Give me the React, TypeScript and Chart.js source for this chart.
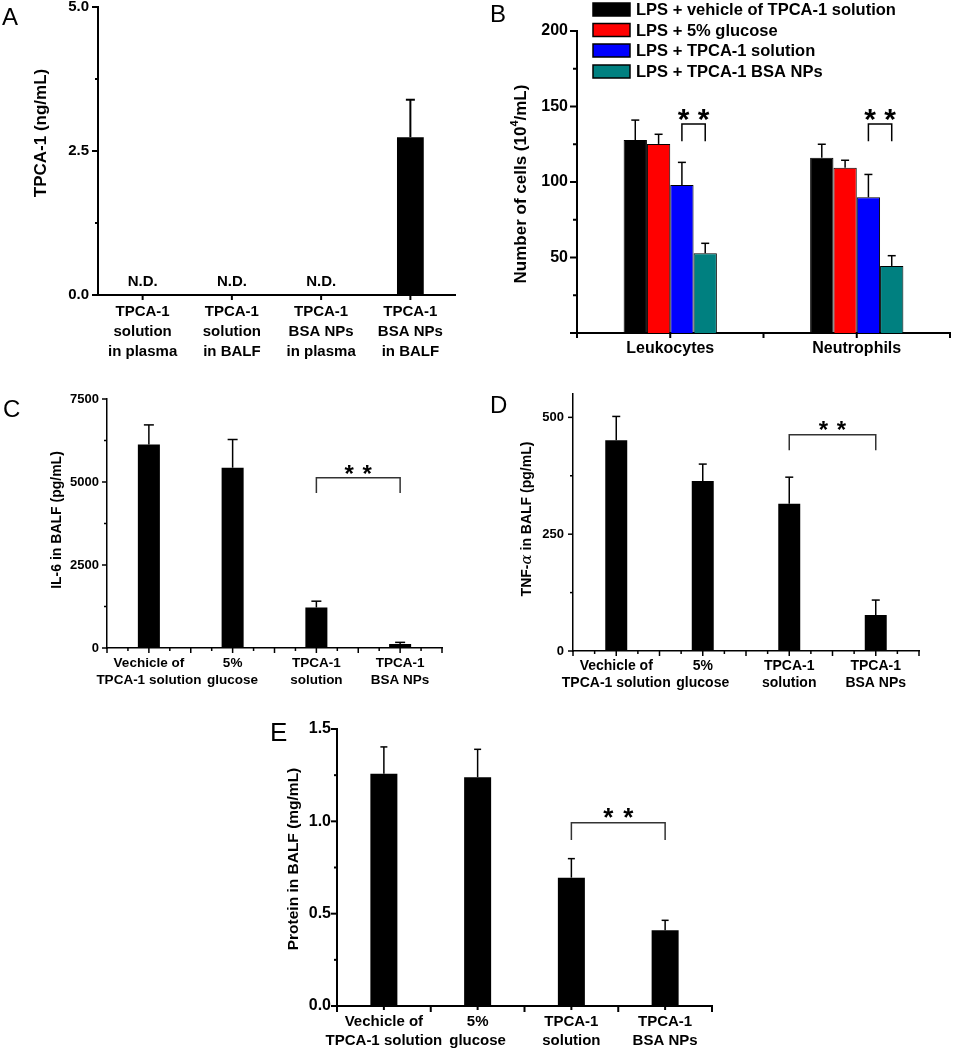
import React, { useEffect, useRef } from "react";
import { Chart, registerables } from "chart.js";

Chart.register(...registerables);

const FONT = "Arial, 'Liberation Sans', Helvetica, sans-serif";
Chart.defaults.font.family = FONT;
Chart.defaults.color = "#000";

// ---------------- Panel A data ----------------
const aCategories = [
  ["TPCA-1", "solution", "in plasma"],
  ["TPCA-1", "solution", "in BALF"],
  ["TPCA-1", "BSA NPs", "in plasma"],
  ["TPCA-1", "BSA NPs", "in BALF"],
];
const aConcentration: (number | null)[] = [null, null, null, 2.74];
const aConcentrationSD: (number | null)[] = [null, null, null, 0.65];
const aNotDetected = ["N.D.", "N.D.", "N.D.", ""];

// ---------------- Panel B data ----------------
const bCategories = ["Leukocytes", "Neutrophils"];
const bSeriesNames = [
  "LPS + vehicle of TPCA-1 solution",
  "LPS + 5% glucose",
  "LPS + TPCA-1 solution",
  "LPS + TPCA-1 BSA NPs",
];
const bVehicle = [127.8, 116.0];
const bVehicleSD = [13.2, 9.0];
const bGlucose = [125.2, 109.5];
const bGlucoseSD = [6.4, 4.9];
const bSolution = [98.0, 89.9];
const bSolutionSD = [15.0, 15.1];
const bNPs = [52.8, 44.4];
const bNPsSD = [6.6, 6.8];
const bColors = ["#000000", "#ff0000", "#0000ff", "#008080"];

// ---------------- Panels C, D, E data ----------------
const groupCategories = [
  ["Vechicle of", "TPCA-1 solution"],
  ["5%", "glucose"],
  ["TPCA-1", "solution"],
  ["TPCA-1", "BSA NPs"],
];
const cIL6 = [6130, 5430, 1220, 120];
const cIL6SD = [590, 850, 190, 50];
const dTNF = [451, 364, 315, 77];
const dTNFSD = [51, 36, 57, 32];
const eProtein = [1.258, 1.239, 0.695, 0.41];
const eProteinSD = [0.145, 0.151, 0.103, 0.054];

// ---------------- Panel layout ----------------
type Seg = { t: string; font?: string; dy?: number };
type DS = { label: string; data: (number | null)[]; sd: (number | null)[]; color: string };
type Bracket = {
  a: [number, number];
  b: [number, number];
  top: number;
  leg: number;
  starSize: number;
  starAbove: number;
  starGap: number;
  color: string;
  width: number;
};
type Panel = {
  letter: string;
  letterPos: [number, number];
  letterSize: number;
  canvas: { x: number; y: number; w: number; h: number };
  area: { l: number; t: number; r: number; b: number };
  labels: any[];
  datasets: DS[];
  yMin: number;
  yMax: number;
  yMinor: number;
  yMajor: number;
  fmt: (v: number) => string;
  hideZero: boolean;
  yFont: number;
  yPad: number;
  xFont: number;
  xLineHeight: number;
  xPad: number;
  axisWidth: number;
  yTickLen: [number, number];
  xTick: { boundary: number; center: number; quarter: number };
  catPct: number;
  barPct: number;
  barBorder: number;
  errWidth: number;
  cap: number;
  title: { segs: Seg[]; font: string; x: number; y: number };
  brackets: Bracket[];
  nd?: { texts: string[]; above: number; font: string };
  legend?: { x: number; w: number; h: number; rows: number[]; textX: number; font: string };
};

const isMultiple = (v: number, m: number) => Math.abs(v / m - Math.round(v / m)) < 1e-6;

const panels: Panel[] = [
  {
    letter: "A",
    letterPos: [2, 25],
    letterSize: 24,
    canvas: { x: 0, y: 0, w: 470, h: 370 },
    area: { l: 98, t: 7, r: 455, b: 295 },
    labels: aCategories,
    datasets: [{ label: "TPCA-1", data: aConcentration, sd: aConcentrationSD, color: "#000" }],
    yMin: 0,
    yMax: 5,
    yMinor: 1.25,
    yMajor: 2.5,
    fmt: (v) => v.toFixed(1),
    hideZero: false,
    yFont: 15,
    yPad: 9,
    xFont: 15,
    xLineHeight: 20 / 15,
    xPad: 7,
    axisWidth: 2,
    yTickLen: [6, 3],
    xTick: { boundary: 0, center: 5, quarter: 0 },
    catPct: 1,
    barPct: 0.3,
    barBorder: 0,
    errWidth: 2,
    cap: 4.5,
    title: { segs: [{ t: "TPCA-1 (ng/mL)" }], font: "bold 17px " + FONT, x: 41, y: 133 },
    brackets: [],
    nd: { texts: aNotDetected, above: 13, font: "bold 15px " + FONT },
  },
  {
    letter: "B",
    letterPos: [490, 22],
    letterSize: 24,
    canvas: { x: 470, y: 0, w: 483, h: 370 },
    area: { l: 577, t: 31, r: 950, b: 333 },
    labels: bCategories,
    datasets: [
      { label: bSeriesNames[0], data: bVehicle, sd: bVehicleSD, color: bColors[0] },
      { label: bSeriesNames[1], data: bGlucose, sd: bGlucoseSD, color: bColors[1] },
      { label: bSeriesNames[2], data: bSolution, sd: bSolutionSD, color: bColors[2] },
      { label: bSeriesNames[3], data: bNPs, sd: bNPsSD, color: bColors[3] },
    ],
    yMin: 0,
    yMax: 200,
    yMinor: 25,
    yMajor: 50,
    fmt: (v) => String(v),
    hideZero: true,
    yFont: 16,
    yPad: 9,
    xFont: 16,
    xLineHeight: 1.25,
    xPad: 6,
    axisWidth: 2,
    yTickLen: [7, 4],
    xTick: { boundary: 5, center: 5, quarter: 0 },
    catPct: 0.5,
    barPct: 1,
    barBorder: 1,
    errWidth: 1.5,
    cap: 4,
    title: {
      segs: [{ t: "Number of cells (10" }, { t: "4", font: "bold 11px " + FONT, dy: -6 }, { t: "/mL)" }],
      font: "bold 17px " + FONT,
      x: 521,
      y: 184,
    },
    brackets: [
      { a: [2, 0], b: [3, 0], top: 138.4, leg: 127, starSize: 30, starAbove: 10, starGap: 10, color: "#000", width: 1.5 },
      { a: [2, 1], b: [3, 1], top: 138.4, leg: 127, starSize: 30, starAbove: 10, starGap: 10, color: "#000", width: 1.5 },
    ],
    legend: { x: 593, w: 37, h: 13, rows: [9.5, 30, 50.5, 71.5], textX: 636, font: "bold 16.5px " + FONT },
  },
  {
    letter: "C",
    letterPos: [3, 417],
    letterSize: 24,
    canvas: { x: 0, y: 370, w: 470, h: 327 },
    area: { l: 107, t: 399, r: 442, b: 648 },
    labels: groupCategories,
    datasets: [{ label: "IL-6", data: cIL6, sd: cIL6SD, color: "#000" }],
    yMin: 0,
    yMax: 7500,
    yMinor: 1250,
    yMajor: 2500,
    fmt: (v) => String(v),
    hideZero: false,
    yFont: 13,
    yPad: 8,
    xFont: 13.5,
    xLineHeight: 17 / 13.5,
    xPad: 6.5,
    axisWidth: 1.5,
    yTickLen: [5, 3],
    xTick: { boundary: 5, center: 5, quarter: 3 },
    catPct: 1,
    barPct: 0.263,
    barBorder: 0,
    errWidth: 1.5,
    cap: 5,
    title: { segs: [{ t: "IL-6 in BALF (pg/mL)" }], font: "bold 14px " + FONT, x: 57, y: 520 },
    brackets: [
      { a: [0, 2], b: [0, 3], top: 5129, leg: 4666, starSize: 24, starAbove: 8, starGap: 9, color: "#333", width: 1.5 },
    ],
  },
  {
    letter: "D",
    letterPos: [490, 413],
    letterSize: 24,
    canvas: { x: 470, y: 370, w: 483, h: 327 },
    area: { l: 573, t: 394, r: 919, b: 651 },
    labels: groupCategories,
    datasets: [{ label: "TNF-α", data: dTNF, sd: dTNFSD, color: "#000" }],
    yMin: 0,
    yMax: 550,
    yMinor: 125,
    yMajor: 250,
    fmt: (v) => String(v),
    hideZero: false,
    yFont: 13,
    yPad: 9,
    xFont: 14,
    xLineHeight: 17.6 / 14,
    xPad: 6,
    axisWidth: 1.5,
    yTickLen: [5, 3],
    xTick: { boundary: 5, center: 5, quarter: 3 },
    catPct: 1,
    barPct: 0.254,
    barBorder: 0,
    errWidth: 1.5,
    cap: 4,
    title: {
      segs: [{ t: "TNF-" }, { t: "α", font: "italic 15px 'DejaVu Serif', serif" }, { t: " in BALF (pg/mL)" }],
      font: "bold 14px " + FONT,
      x: 527,
      y: 519,
    },
    brackets: [
      { a: [0, 2], b: [0, 3], top: 463, leg: 429.5, starSize: 24, starAbove: 9, starGap: 9, color: "#333", width: 1.5 },
    ],
  },
  {
    letter: "E",
    letterPos: [270, 741],
    letterSize: 26,
    canvas: { x: 230, y: 697, w: 500, h: 353 },
    area: { l: 337, t: 729, r: 712, b: 1006 },
    labels: groupCategories,
    datasets: [{ label: "Protein", data: eProtein, sd: eProteinSD, color: "#000" }],
    yMin: 0,
    yMax: 1.5,
    yMinor: 0.25,
    yMajor: 0.5,
    fmt: (v) => v.toFixed(1),
    hideZero: false,
    yFont: 16,
    yPad: 6,
    xFont: 15,
    xLineHeight: 19 / 15,
    xPad: 6.5,
    axisWidth: 2,
    yTickLen: [6, 3],
    xTick: { boundary: 6, center: 4, quarter: 0 },
    catPct: 1,
    barPct: 0.288,
    barBorder: 0,
    errWidth: 1.5,
    cap: 3.5,
    title: { segs: [{ t: "Protein in BALF (mg/mL)" }], font: "bold 15.5px " + FONT, x: 294, y: 859 },
    brackets: [
      { a: [0, 2], b: [0, 3], top: 0.993, leg: 0.899, starSize: 26, starAbove: 10, starGap: 10, color: "#333", width: 1.5 },
    ],
  },
];

function line(ctx: CanvasRenderingContext2D, x1: number, y1: number, x2: number, y2: number) {
  ctx.beginPath();
  ctx.moveTo(x1, y1);
  ctx.lineTo(x2, y2);
  ctx.stroke();
}

function drawRich(ctx: CanvasRenderingContext2D, segs: Seg[], baseFont: string, cx: number, cy: number, rot: number) {
  ctx.save();
  ctx.translate(cx, cy);
  ctx.rotate(rot);
  ctx.textBaseline = "middle";
  ctx.textAlign = "left";
  const widths = segs.map((s) => {
    ctx.font = s.font || baseFont;
    return ctx.measureText(s.t).width;
  });
  const total = widths.reduce((a, b) => a + b, 0);
  let x = -total / 2;
  segs.forEach((s, i) => {
    ctx.font = s.font || baseFont;
    ctx.fillText(s.t, x, s.dy || 0);
    x += widths[i];
  });
  ctx.restore();
}

function makeDecor(p: Panel) {
  return {
    id: "decor" + p.letter,
    afterDraw(chart: any) {
      const ctx = chart.ctx as CanvasRenderingContext2D;
      const ox = p.canvas.x;
      const oy = p.canvas.y;
      const xs = chart.scales.x;
      const ys = chart.scales.y;
      const area = chart.chartArea;
      ctx.save();
      ctx.strokeStyle = "#000";
      ctx.fillStyle = "#000";
      ctx.lineWidth = p.axisWidth;

      // y tick marks
      const nY = Math.floor((p.yMax - p.yMin) / p.yMinor + 1e-6);
      for (let k = 0; k <= nY; k++) {
        const v = p.yMin + k * p.yMinor;
        const y = ys.getPixelForValue(v);
        const len = isMultiple(v, p.yMajor) ? p.yTickLen[0] : p.yTickLen[1];
        line(ctx, area.left - len, y, area.left, y);
      }
      // x tick marks
      const n = p.labels.length;
      const w = (xs.right - xs.left) / n;
      for (let k = 0; k <= n; k++) {
        if (p.xTick.boundary > 0) {
          const x = xs.left + k * w;
          line(ctx, x, area.bottom, x, area.bottom + p.xTick.boundary);
        }
        if (k < n) {
          if (p.xTick.center > 0) {
            const x = xs.getPixelForValue(k);
            line(ctx, x, area.bottom, x, area.bottom + p.xTick.center);
          }
          if (p.xTick.quarter > 0) {
            for (const q of [0.25, 0.75]) {
              const x = xs.left + (k + q) * w;
              line(ctx, x, area.bottom, x, area.bottom + p.xTick.quarter);
            }
          }
        }
      }

      // error bars
      ctx.lineWidth = p.errWidth;
      p.datasets.forEach((ds, di) => {
        const meta = chart.getDatasetMeta(di);
        ds.data.forEach((val, j) => {
          const sd = ds.sd[j];
          if (val == null || sd == null) return;
          const x = meta.data[j].x;
          const yT = ys.getPixelForValue(val);
          const yE = ys.getPixelForValue(val + sd);
          line(ctx, x, yT, x, yE);
          line(ctx, x - p.cap, yE, x + p.cap, yE);
        });
      });

      // significance brackets
      for (const br of p.brackets) {
        const x1 = chart.getDatasetMeta(br.a[0]).data[br.a[1]].x;
        const x2 = chart.getDatasetMeta(br.b[0]).data[br.b[1]].x;
        const yT = ys.getPixelForValue(br.top);
        const yL = ys.getPixelForValue(br.leg);
        ctx.strokeStyle = br.color;
        ctx.lineWidth = br.width;
        ctx.beginPath();
        ctx.moveTo(x1, yL);
        ctx.lineTo(x1, yT);
        ctx.lineTo(x2, yT);
        ctx.lineTo(x2, yL);
        ctx.stroke();
        const mid = (x1 + x2) / 2;
        ctx.font = "bold " + br.starSize + "px " + FONT;
        ctx.textAlign = "center";
        ctx.textBaseline = "alphabetic";
        ctx.fillStyle = "#000";
        const base = yT - br.starAbove + 0.5 * br.starSize;
        ctx.fillText("*", mid - br.starGap, base);
        ctx.fillText("*", mid + br.starGap, base);
      }

      // N.D. texts
      if (p.nd) {
        ctx.font = p.nd.font;
        ctx.textAlign = "center";
        ctx.textBaseline = "middle";
        ctx.fillStyle = "#000";
        p.nd.texts.forEach((t, j) => {
          if (!t) return;
          ctx.fillText(t, xs.getPixelForValue(j), ys.getPixelForValue(0) - p.nd!.above);
        });
      }

      // legend
      if (p.legend) {
        const lg = p.legend;
        p.datasets.forEach((ds, i) => {
          const cy = lg.rows[i] - oy;
          ctx.fillStyle = ds.color;
          ctx.fillRect(lg.x - ox, cy - lg.h / 2, lg.w, lg.h);
          ctx.strokeStyle = "#000";
          ctx.lineWidth = 1.5;
          ctx.strokeRect(lg.x - ox, cy - lg.h / 2, lg.w, lg.h);
          ctx.fillStyle = "#000";
          ctx.font = lg.font;
          ctx.textAlign = "left";
          ctx.textBaseline = "middle";
          ctx.fillText(ds.label, lg.textX - ox, cy + 1);
        });
      }

      // axis title
      ctx.fillStyle = "#000";
      drawRich(ctx, p.title.segs, p.title.font, p.title.x - ox, p.title.y - oy, -Math.PI / 2);

      // panel letter
      ctx.font = p.letterSize + "px " + FONT;
      ctx.textAlign = "left";
      ctx.textBaseline = "alphabetic";
      ctx.fillText(p.letter, p.letterPos[0] - ox, p.letterPos[1] - oy);
      ctx.restore();
    },
  };
}

function buildConfig(p: Panel): any {
  const c = p.canvas;
  const a = p.area;
  return {
    type: "bar",
    data: {
      labels: p.labels,
      datasets: p.datasets.map((d) => ({
        label: d.label,
        data: d.data,
        backgroundColor: d.color,
        borderColor: "#000",
        borderWidth: p.barBorder,
        categoryPercentage: p.catPct,
        barPercentage: p.barPct,
      })),
    },
    options: {
      responsive: false,
      maintainAspectRatio: false,
      animation: false,
      devicePixelRatio: 1,
      layout: { padding: { left: 0, top: a.t - c.y, right: c.x + c.w - a.r, bottom: 0 } },
      plugins: { legend: { display: false }, tooltip: { enabled: false }, title: { display: false } },
      events: [],
      scales: {
        x: {
          type: "category",
          offset: true,
          grid: { display: false, drawTicks: false },
          border: { display: true, width: p.axisWidth, color: "#000" },
          ticks: {
            color: "#000",
            font: { family: FONT, size: p.xFont, weight: "bold", lineHeight: p.xLineHeight },
            padding: p.xPad,
            maxRotation: 0,
            minRotation: 0,
            autoSkip: false,
          },
          afterFit: (s: any) => {
            s.height = c.y + c.h - a.b;
            s.paddingLeft = 0;
            s.paddingRight = 0;
          },
        },
        y: {
          type: "linear",
          min: p.yMin,
          max: p.yMax,
          grid: { display: false, drawTicks: false },
          border: { display: true, width: p.axisWidth, color: "#000" },
          ticks: {
            stepSize: p.yMinor,
            includeBounds: false,
            autoSkip: false,
            color: "#000",
            padding: p.yPad,
            font: { family: FONT, size: p.yFont, weight: "bold" },
            callback: (v: number) => {
              if (!isMultiple(v, p.yMajor)) return "";
              if (p.hideZero && Math.abs(v) < 1e-9) return "";
              return p.fmt(v);
            },
          },
          afterFit: (s: any) => {
            s.width = a.l - c.x;
            s.paddingTop = 0;
            s.paddingBottom = 0;
          },
        },
      },
    },
    plugins: [makeDecor(p)],
  };
}

function PanelCanvas({ p }: { p: Panel }) {
  const ref = useRef<HTMLCanvasElement>(null);
  useEffect(() => {
    if (!ref.current) return;
    const chart = new Chart(ref.current, buildConfig(p));
    return () => chart.destroy();
  }, [p]);
  return (
    <canvas
      ref={ref}
      width={p.canvas.w}
      height={p.canvas.h}
      style={{ position: "absolute", left: p.canvas.x, top: p.canvas.y, width: p.canvas.w, height: p.canvas.h }}
    />
  );
}

export default function App() {
  return (
    <div style={{ position: "fixed", left: 0, top: 0, width: 953, height: 1050, background: "#fff", overflow: "hidden" }}>
      {panels.map((p) => (
        <PanelCanvas key={p.letter} p={p} />
      ))}
    </div>
  );
}
